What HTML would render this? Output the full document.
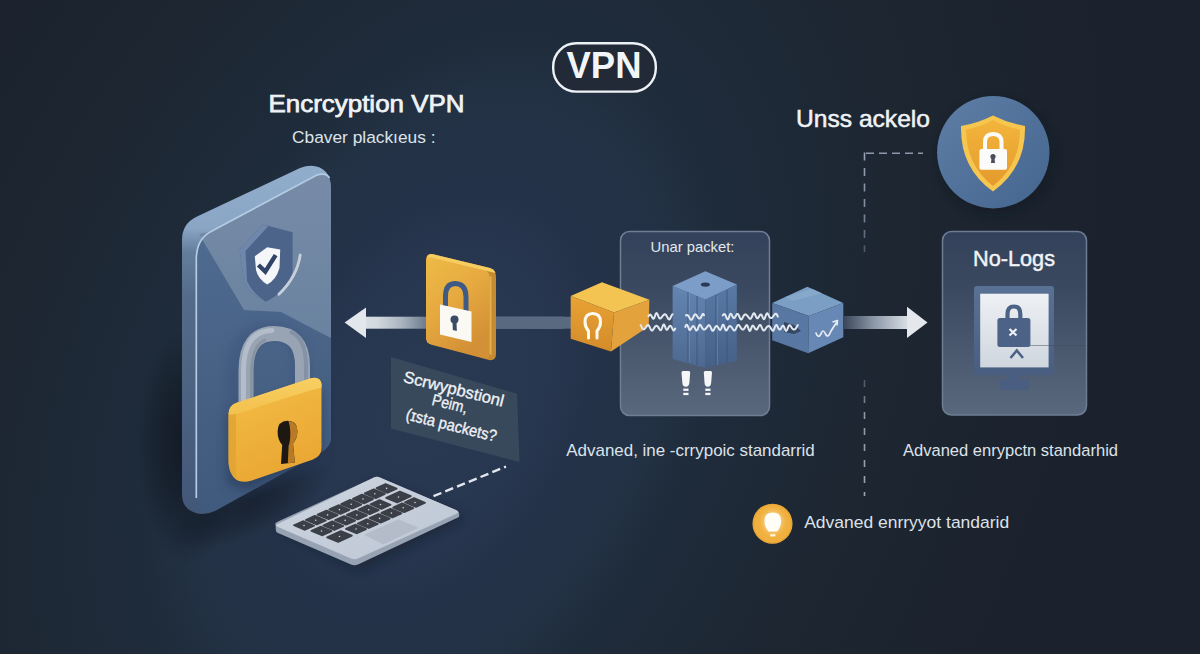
<!DOCTYPE html>
<html><head><meta charset="utf-8"><title>VPN</title>
<style>
html,body{margin:0;padding:0;width:1200px;height:654px;overflow:hidden;background:#1b232e;}
svg{display:block;position:absolute;left:0;top:0;}
text{font-family:"Liberation Sans",sans-serif;}
</style></head><body>
<svg width="1200" height="654" viewBox="0 0 1200 654">
<defs>
  <radialGradient id="bg" cx="0" cy="0" r="2.2" gradientUnits="userSpaceOnUse" gradientTransform="translate(430 400) rotate(-63.4) scale(450 300)">
    <stop offset="0" stop-color="#2a3952"/>
    <stop offset="0.15" stop-color="#283750"/>
    <stop offset="0.227" stop-color="#243249"/>
    <stop offset="0.327" stop-color="#223144"/>
    <stop offset="0.386" stop-color="#1f2c3b"/>
    <stop offset="0.5" stop-color="#1e2937"/>
    <stop offset="0.636" stop-color="#1d2631"/>
    <stop offset="0.909" stop-color="#1b222d"/>
    <stop offset="1" stop-color="#1b222d"/>
  </radialGradient>
  <linearGradient id="phoneSide" x1="0" y1="170" x2="0" y2="512" gradientUnits="userSpaceOnUse">
    <stop offset="0" stop-color="#90adcb"/>
    <stop offset="0.17" stop-color="#8aa6c4"/>
    <stop offset="0.24" stop-color="#637d9d"/>
    <stop offset="0.38" stop-color="#536b88"/>
    <stop offset="0.82" stop-color="#485d7e"/>
    <stop offset="1" stop-color="#435778"/>
  </linearGradient>
  <linearGradient id="phoneDark" x1="0" y1="230" x2="0" y2="512" gradientUnits="userSpaceOnUse">
    <stop offset="0" stop-color="#4f6b90"/>
    <stop offset="0.6" stop-color="#466083"/>
    <stop offset="1" stop-color="#405a7e"/>
  </linearGradient>
  <linearGradient id="phoneLight" x1="0" y1="175" x2="0" y2="335" gradientUnits="userSpaceOnUse">
    <stop offset="0" stop-color="#778ba7"/>
    <stop offset="1" stop-color="#6a83a0"/>
  </linearGradient>
  <linearGradient id="lockBody" x1="0" y1="0" x2="0.4" y2="1">
    <stop offset="0" stop-color="#f4bf47"/>
    <stop offset="1" stop-color="#eaa733"/>
  </linearGradient>
  <linearGradient id="lockTop" x1="0" y1="378" x2="0" y2="416" gradientUnits="userSpaceOnUse">
    <stop offset="0" stop-color="#f8cf62"/>
    <stop offset="1" stop-color="#f3c04c"/>
  </linearGradient>
  <linearGradient id="ycubeL" x1="0" y1="296" x2="0" y2="352" gradientUnits="userSpaceOnUse">
    <stop offset="0" stop-color="#e8a234"/>
    <stop offset="1" stop-color="#d38c2a"/>
  </linearGradient>
  <linearGradient id="cardFace" x1="0" y1="0" x2="0.5" y2="1">
    <stop offset="0" stop-color="#edbb46"/>
    <stop offset="0.5" stop-color="#e6aa40"/>
    <stop offset="1" stop-color="#d39036"/>
  </linearGradient>
  <linearGradient id="arrowL" x1="345" y1="0" x2="426" y2="0" gradientUnits="userSpaceOnUse">
    <stop offset="0" stop-color="#e0e5ea"/>
    <stop offset="0.4" stop-color="#d2d9df"/>
    <stop offset="0.7" stop-color="#a9b4bf"/>
    <stop offset="1" stop-color="#6c7c8e"/>
  </linearGradient>
  <linearGradient id="arrowR" x1="845" y1="0" x2="925" y2="0" gradientUnits="userSpaceOnUse">
    <stop offset="0" stop-color="#3d495d"/>
    <stop offset="0.35" stop-color="#8a95a5"/>
    <stop offset="0.75" stop-color="#d3d9e0"/>
    <stop offset="1" stop-color="#e4e8ed"/>
  </linearGradient>
  <linearGradient id="panel" x1="0" y1="0" x2="0" y2="1">
    <stop offset="0" stop-color="#33425a"/>
    <stop offset="0.3" stop-color="#3a495f"/>
    <stop offset="1" stop-color="#59687d"/>
  </linearGradient>
  <linearGradient id="circ" x1="0" y1="0" x2="1" y2="1">
    <stop offset="0" stop-color="#5e7ea6"/>
    <stop offset="1" stop-color="#44658e"/>
  </linearGradient>
  <linearGradient id="shieldY" x1="0" y1="0" x2="0" y2="1">
    <stop offset="0" stop-color="#f3b53c"/>
    <stop offset="1" stop-color="#e49a2c"/>
  </linearGradient>
  <linearGradient id="screen" x1="0" y1="0" x2="0" y2="1">
    <stop offset="0" stop-color="#eef1f4"/>
    <stop offset="1" stop-color="#cfd6de"/>
  </linearGradient>
  <linearGradient id="kbdTop" x1="0" y1="0" x2="1" y2="1">
    <stop offset="0" stop-color="#ccd4df"/>
    <stop offset="1" stop-color="#bdc7d4"/>
  </linearGradient>
  <linearGradient id="dashFade" x1="0" y1="152" x2="0" y2="252" gradientUnits="userSpaceOnUse">
    <stop offset="0" stop-color="#97a3b4"/>
    <stop offset="0.6" stop-color="#7d899b"/>
    <stop offset="1" stop-color="#4a5566"/>
  </linearGradient>
  <linearGradient id="dashFade2" x1="0" y1="380" x2="0" y2="496" gradientUnits="userSpaceOnUse">
    <stop offset="0" stop-color="#4a5566"/>
    <stop offset="0.3" stop-color="#8d99ab"/>
    <stop offset="1" stop-color="#9aa5b5"/>
  </linearGradient>
  <linearGradient id="monFrame" x1="0" y1="286" x2="0" y2="376" gradientUnits="userSpaceOnUse">
    <stop offset="0" stop-color="#5a7196"/>
    <stop offset="1" stop-color="#485d80"/>
  </linearGradient>
  <linearGradient id="pilL" x1="0" y1="286" x2="0" y2="368" gradientUnits="userSpaceOnUse">
    <stop offset="0" stop-color="#6485b2"/>
    <stop offset="1" stop-color="#4d6890"/>
  </linearGradient>
  <linearGradient id="pilR" x1="0" y1="285" x2="0" y2="368" gradientUnits="userSpaceOnUse">
    <stop offset="0" stop-color="#587aa6"/>
    <stop offset="1" stop-color="#465f86"/>
  </linearGradient>
  <filter id="blur2" x="-50%" y="-50%" width="200%" height="200%"><feGaussianBlur stdDeviation="2"/></filter>
  <filter id="soft" x="-20%" y="-20%" width="140%" height="140%"><feGaussianBlur stdDeviation="6"/></filter>
  <radialGradient id="shadowL" cx="0.5" cy="0.5" r="0.5">
    <stop offset="0" stop-color="#0c1119" stop-opacity="0.75"/>
    <stop offset="0.5" stop-color="#0c1119" stop-opacity="0.45"/>
    <stop offset="1" stop-color="#0c1119" stop-opacity="0"/>
  </radialGradient>
  <filter id="soft2" x="-50%" y="-50%" width="200%" height="200%"><feGaussianBlur stdDeviation="14"/></filter>
</defs>

<rect width="1200" height="654" fill="url(#bg)"/>

<!-- VPN badge -->
<rect x="553.2" y="43.3" width="102.6" height="48.3" rx="23" fill="#212a36" stroke="#eef2f6" stroke-width="2.4"/>
<text x="566.5" y="78.2" font-size="36.5" font-weight="bold" fill="#f2f5f8" textLength="75" lengthAdjust="spacingAndGlyphs">VPN</text>

<!-- left titles -->
<text x="268.5" y="111.6" font-size="24.5" fill="#f0f3f6" stroke="#f0f3f6" stroke-width="0.75" textLength="196" lengthAdjust="spacingAndGlyphs">Encrcyption VPN</text>
<text x="292" y="143.3" font-size="16.8" fill="#dde3ea" textLength="143.5" lengthAdjust="spacingAndGlyphs">Cbaver plackıeus :</text>

<!-- ============ PHONE ============ -->
<g id="phone">
  <ellipse cx="188" cy="445" rx="52" ry="120" fill="url(#shadowL)"/>
  <ellipse cx="250" cy="505" rx="90" ry="30" fill="url(#shadowL)" opacity="0.6" transform="rotate(-24 250 505)"/>
  <!-- silhouette -->
  <path d="M182 240 Q182 224 196 217 L300 168 Q316 162 326 172 Q331 178 331 190 L331 437 Q331 447 320 453 L215 511 Q200 518 188 509 Q182 504 182 494 Z" fill="url(#phoneSide)"/>
  <!-- front face -->
  <path d="M196 258 Q197 238 212 231 L316 175.5 Q331 170 331 190 L331 437 Q331 447 320 453 L216 510 Q197 518 196 498 Z" fill="url(#phoneDark)"/>
  <!-- lighter upper region -->
  <path d="M199 234 L212 231 L316 175.5 Q331 170 331 190 L331 338 L300 322 L281 312 L244 310 Z" fill="url(#phoneLight)"/>
  <!-- highlight line -->
  <path d="M196.3 498 L196.3 258 Q197 238 212 231 L316 175.5 Q326 172 329.5 178" fill="none" stroke="#b4cbe4" stroke-width="1.7"/>

  <!-- shield -->
  <path d="M239.6 249.4 L263 224.6 L292.6 232.2 L292.6 272.8 Q286 292 265.8 301.7 Q248 293 243.8 281 Z" fill="#4c6489"/>
  <path d="M239.6 249.4 L263 224.6 L268.5 226 L245.5 251 L247 281 Q252 293 265.8 301.7 Q248 293 243.8 281 Z" fill="#6f87aa"/>
  <path d="M254.8 256.3 L267.2 247.3 L280.2 249.4 L279.5 268 Q276 280 267.2 284.5 Q258 279 256 270 Z" fill="#f4f6f9"/>
  <path d="M260 266.5 L265.3 271.6 L274.5 257" fill="none" stroke="#2f4467" stroke-width="4.4" stroke-linecap="square" stroke-linejoin="miter"/>
  <path d="M300.2 255 Q297 277 278.9 294.2" fill="none" stroke="#c6d0dc" stroke-width="2.8" stroke-linecap="round"/>

  <!-- big padlock shadow -->
  <path d="M232 410 L326 385 L326 458 L252 488 L232 480 Z" fill="#243453" opacity="0.6" filter="url(#soft)" transform="translate(-5,3)"/>
  <path d="M240 410 L240 370 Q241 328 274 326 Q306 326 307 365 L307 390" fill="none" stroke="#3a4f78" stroke-width="12" opacity="0.55" filter="url(#soft)" transform="translate(-6,4)"/>
  <!-- shackle -->
  <path d="M246 414 L246 370 Q246.5 333.5 274 333.5 Q302.5 333.5 302.5 366 L302.5 392" fill="none" stroke="#98a3b4" stroke-width="15"/>
  <path d="M243.5 410 L243.5 370 Q244 331 272 330.5" fill="none" stroke="#b3bdca" stroke-width="5" stroke-linecap="round"/>
  <path d="M306 390 L306 366 Q306 338 290 331.5" fill="none" stroke="#8591a5" stroke-width="4"/>
  <path d="M251.5 412 L251.5 372 Q252 344 266 339.5" fill="none" stroke="#87939f" stroke-width="2.5"/>
  <!-- body -->
  <path d="M228.5 414 Q228.5 406 236 403 L310 378.5 Q320 375.5 321.5 384 L321.5 448 Q321.5 456 313 459.5 L252 480.5 Q236 485 231 473 Q228.5 468 228.5 460 Z" fill="url(#lockBody)"/>
  <path d="M228.5 414 Q228.5 406 236 403 L310 378.5 Q320 375.5 321.5 384 L321.5 387.5 Q300 393 240 413 Q232 416 228.5 414 Z" fill="url(#lockTop)"/>
  <path d="M228.5 415 L228.5 460 Q228.5 468 231 473 Q233 477 236 479 L236 414 Z" fill="#dea132" opacity="0.7"/>
  <!-- keyhole -->
  <path d="M287.5 420.8 Q297.4 420.8 297.4 431 Q297.4 438.5 293 443.5 L294.8 462.5 L281 464 L282.2 445 Q277.6 440 277.6 431.5 Q277.8 421 287.5 420.8 Z" fill="#1d1812"/>
  <path d="M288.5 421 Q297.4 421.5 297.4 431 Q297.4 438.5 293 443.5 L294.8 462.5 L287.8 463.3 L288.6 446 Q290.5 441 290.3 432 Q290 425 288.5 421 Z" fill="#b87a24"/>
</g>

<!-- ============ LEFT ARROW ============ -->
<rect x="364" y="316.7" width="200" height="12" fill="url(#arrowL)"/>
<rect x="495" y="316.7" width="77" height="12" fill="#59697f"/>
<path d="M344.6 322.5 L366 307.5 L366 338 Z" fill="#e2e7ec"/>

<!-- yellow card -->
<g id="card">
  <path d="M432 254 L490 268 Q496 270 496 277 L496 354 Q496 361 489 360 L433 345 Q426 343 426 336 L426 260 Q426 253 432 254 Z" fill="#c68a32"/>
  <path d="M431 257 L484 270 Q489.5 271.5 489.5 277 L489.5 354 Q489.5 359 484 358 L431 344.5 Q426 343 426 338 L426 262 Q426 256 431 257 Z" fill="url(#cardFace)"/>
  <path d="M489.5 277 L489.5 354 L491.5 355 L491.5 276 Z" fill="#e2b24a"/>
  <path d="M432 254 L490 268 Q494.5 269.5 495.5 273 L489 271.5 L431 257.5 Q427.5 257 426.5 259 Q427.5 253.5 432 254 Z" fill="#f6cd60"/>
  <!-- card padlock -->
  <path d="M445.5 306 L445.5 296 Q445.5 283.5 455.5 283.5 Q466 284 466 297 L466 311" fill="none" stroke="#3f5b84" stroke-width="5"/>
  <path d="M440 304.5 L471.5 311.5 L471.5 342 L440 334.5 Z" fill="#fbf9f4"/>
  <circle cx="454.5" cy="319.5" r="4" fill="#3a4b66"/>
  <path d="M452.5 321 L456.5 321.5 L456.8 331 L452.8 330 Z" fill="#3a4b66"/>
</g>

<!-- label panel -->
<path d="M391 357 L517 393.7 L519.5 462 L391 428.4 Z" fill="#39495c"/>
<g fill="#eef1f5" stroke="#eef1f5" stroke-width="0.35" font-size="16.3">
  <text x="452.4" y="394.2" text-anchor="middle" transform="rotate(14 452.4 394.2)" textLength="103" lengthAdjust="spacingAndGlyphs">Scrwypbstionl</text>
  <text x="448.5" y="409" text-anchor="middle" transform="rotate(14 448.5 409)" textLength="36" lengthAdjust="spacingAndGlyphs">Peim,</text>
  <text x="450" y="430.5" text-anchor="middle" transform="rotate(14 450 430.5)" textLength="93" lengthAdjust="spacingAndGlyphs">(ɪsta packets?</text>
</g>

<!-- keyboard -->
<g id="kbd">
  <path d="M280 530 L380 482 L466 518 L360 570 Z" fill="#0f1620" opacity="0.45" filter="url(#soft)"/>
  <path d="M275.7 525.3 Q274 523 278 521.5 L374 477.5 Q377 476 381 478 L457 510.5 Q460 512 459 516 L459 517 L358 564.5 Q354.5 566 351 564.5 L278 533 Q275.7 532 275.7 529 Z" fill="#97a2b3"/>
  <path d="M278 523.8 L374 477.5 Q377 476 381 478 L456 510 Q460 512 456 514 L358 558.5 Q354.5 560 351 558.5 L278 527 Q274 525.5 278 523.8 Z" fill="url(#kbdTop)"/>
  <path d="M365.8 534.8 L398.5 520.3 L416.6 527.8 L383.3 543.6 Z" fill="#b3bcc8" stroke="#b3bcc8" stroke-width="1.5" stroke-linejoin="round"/>
<path d="M294.0 525.2 L303.0 521.2 L314.0 525.8 L305.0 529.8Z M305.8 520.0 L314.8 515.9 L325.8 520.5 L316.8 524.5Z M317.6 514.6 L326.6 510.6 L337.6 515.1 L328.6 519.2Z M329.4 509.4 L338.4 505.2 L349.4 509.9 L340.4 514.0Z M341.2 504.1 L350.2 499.9 L361.2 504.6 L352.2 508.7Z M353.0 498.8 L362.0 494.6 L373.0 499.2 L364.0 503.4Z M364.8 493.4 L373.8 489.3 L384.8 493.9 L375.8 498.1Z M376.6 488.1 L385.6 484.0 L396.6 488.6 L387.6 492.8Z M311.5 530.8 L320.5 526.7 L331.5 531.2 L322.5 535.3Z M323.3 525.5 L332.3 521.4 L343.3 526.0 L334.3 530.0Z M335.1 520.1 L344.1 516.1 L355.1 520.6 L346.1 524.7Z M346.9 514.9 L355.9 510.8 L366.9 515.4 L357.9 519.4Z M358.7 509.6 L367.7 505.4 L378.7 510.1 L369.7 514.1Z M370.5 504.2 L379.5 500.1 L390.5 504.8 L381.5 508.9Z M386.2 497.8 L399.8 491.6 L410.8 496.2 L397.2 502.4Z M327.2 537.3 L340.8 531.1 L351.8 535.7 L338.2 541.9Z M346.0 528.8 L355.0 524.7 L366.0 529.2 L357.0 533.3Z M357.8 523.5 L366.8 519.4 L377.8 524.0 L368.8 528.0Z M369.6 518.1 L378.6 514.1 L389.6 518.6 L380.6 522.7Z M381.4 512.9 L390.4 508.8 L401.4 513.4 L392.4 517.4Z M393.2 507.6 L402.2 503.4 L413.2 508.1 L404.2 512.1Z M405.0 502.2 L414.0 498.1 L425.0 502.8 L416.0 506.9Z" fill="#3b3f47" stroke="#3b3f47" stroke-width="1.8" stroke-linejoin="round"/>
<g fill="#c9ced6"><circle cx="304.0" cy="525.5" r="0.8"/><circle cx="315.8" cy="520.2" r="0.8"/><circle cx="327.6" cy="514.9" r="0.8"/><circle cx="339.4" cy="509.6" r="0.8"/><circle cx="351.2" cy="504.3" r="0.8"/><circle cx="363.0" cy="499.0" r="0.8"/><circle cx="374.8" cy="493.7" r="0.8"/><circle cx="386.6" cy="488.4" r="0.8"/><circle cx="321.5" cy="531.0" r="0.8"/><circle cx="333.3" cy="525.7" r="0.8"/><circle cx="345.1" cy="520.4" r="0.8"/><circle cx="356.9" cy="515.1" r="0.8"/><circle cx="368.7" cy="509.8" r="0.8"/><circle cx="380.5" cy="504.5" r="0.8"/><circle cx="398.5" cy="497.0" r="0.8"/><circle cx="339.5" cy="536.5" r="0.8"/><circle cx="356.0" cy="529.0" r="0.8"/><circle cx="367.8" cy="523.7" r="0.8"/><circle cx="379.6" cy="518.4" r="0.8"/><circle cx="391.4" cy="513.1" r="0.8"/><circle cx="403.2" cy="507.8" r="0.8"/><circle cx="415.0" cy="502.5" r="0.8"/></g>
</g>
<path d="M433.5 496.2 L506 466.6" stroke="#e2e8ee" stroke-width="2.4" stroke-dasharray="8.5 4.2"/>

<!-- ============ CENTER PANEL ============ -->
<rect x="620.5" y="231.5" width="149" height="184" rx="9" fill="url(#panel)" stroke="#6f7e94" stroke-width="1.5"/>
<text x="650.5" y="252.4" font-size="14.5" fill="#e3e8ee" textLength="84" lengthAdjust="spacingAndGlyphs">Unar packet:</text>

<!-- pillar -->
<g id="pillar">
  <path d="M672.6 286 L705.4 299.6 L705.4 368 L672.6 359 Z" fill="url(#pilL)"/>
  <path d="M705.4 299.6 L736.8 284.6 L736.8 360.7 L705.4 368 Z" fill="url(#pilR)"/>
  <path d="M672.6 286 L705.4 271.2 L736.8 284.6 L705.4 299.6 Z" fill="#7d9dc9"/>
  <ellipse cx="705.4" cy="284.6" rx="4.5" ry="2.2" fill="#2a3a55"/>
  <path d="M688 292 L688 362 M697 296 L697 365 M716 295 L716 366 M727 290 L727 363" stroke="#3b557c" stroke-width="1.2" opacity="0.7"/>
  <path d="M689.3 293 L689.3 362 M717.3 296 L717.3 365" stroke="#7f9cc4" stroke-width="0.8" opacity="0.6"/>
</g>
<!-- plugs -->
<g fill="#f4f6f8">
  <path d="M681.5 372.5 Q681.5 371 683 371 L688.8 371 Q690.2 371 690.2 372.5 L689.4 382.5 Q689 386.8 685.8 386.8 Q682.6 386.8 682.3 382.5 Z"/>
  <path d="M703.8 372.5 Q703.8 371 705.3 371 L710.6 371 Q712 371 712 372.5 L711.2 382.5 Q710.8 386.8 707.8 386.8 Q704.8 386.8 704.5 382.5 Z"/>
  <rect x="683.3" y="388.6" width="5.2" height="2.3"/>
  <rect x="683.3" y="392.8" width="5.2" height="2.3"/>
  <rect x="705.3" y="388.6" width="5.2" height="2.3"/>
  <rect x="705.3" y="392.8" width="5.2" height="2.3"/>
</g>

<!-- yellow cube -->
<g id="ycube">
  <path d="M570.7 296 L602 282.2 L649.4 299.8 L614 312.5 Z" fill="#f4c452"/>
  <path d="M570.7 296 L614 312.5 L611 351.5 L570.7 338.8 Z" fill="url(#ycubeL)"/>
  <path d="M614 312.5 L649.4 299.8 L648.7 326.6 L611 351.5 Z" fill="#e3a23c"/>
  <path d="M588.5 338 L588.5 331 Q585 327 585 322 Q585 313.5 592.8 313.5 Q600.5 313.5 600.5 322 Q600.5 327 597 331 L597 338" fill="none" stroke="#fffaf0" stroke-width="3" stroke-linecap="round" stroke-linejoin="round"/>
</g>

<!-- blue cube -->
<g id="bcube">
  <path d="M772.2 302.9 L807.4 286.8 L843.3 302.9 L808.9 315.9 Z" fill="#7a9ec4"/>
  <path d="M785 297 L812 288.8 L822 293.3 L793 301 Z" fill="#8aaccf" opacity="0.7"/>
  <path d="M772.2 302.9 L808.9 315.9 L808.2 353.3 L772.2 340.3 Z" fill="#5877a2"/>
  <path d="M808.9 315.9 L843.3 302.9 L843.3 337.3 L808.2 353.3 Z" fill="#6788b4"/>
  <path d="M784 322 L794 325 L801 331 L794 334 L784 332 Z" fill="#2f3d55" opacity="0.85"/>
  <path d="M816 333 Q818 339 821 334 Q823 328 825.5 334 Q828 339 831 331 L836.5 322.5" fill="none" stroke="#e6edf5" stroke-width="1.7" stroke-linecap="round"/>
  <path d="M832.5 322 L837.5 320.5 L837 325.5" fill="none" stroke="#e6edf5" stroke-width="1.6" stroke-linejoin="round"/>
</g>

<!-- wavy lines -->
<path d="M648.50 316.30 L649.00 315.41 L649.50 314.80 L650.00 314.56 L650.50 314.71 L651.00 315.23 L651.50 316.04 L652.00 317.00 L652.50 317.92 L653.00 318.55 L653.50 318.69 L654.00 318.22 L654.50 317.20 L655.00 315.86 L655.50 314.52 L656.00 313.52 L656.50 313.11 L657.00 313.37 L657.50 314.19 L658.00 315.36 L658.50 316.59 L659.00 317.63 L659.50 318.32 L660.00 318.59 L660.50 318.48 L661.00 318.08 L661.50 317.51 L662.00 316.87 L662.50 316.21 L663.00 315.60 L663.50 315.06 L664.00 314.63 L664.50 314.34 L665.00 314.26 L665.50 314.43 L666.00 314.90 L666.50 315.63 L667.00 316.56 L667.50 317.57 L668.00 318.50 L668.50 319.18 L669.00 319.48 L669.50 319.33 L670.00 318.74 L670.50 317.82 L671.00 316.73 L671.50 315.66 L672.00 314.80 L672.50 314.26 M686.00 315.34 L686.50 315.07 L687.00 315.00 L687.50 315.15 L688.00 315.53 L688.50 316.14 L689.00 316.94 L689.50 317.84 L690.00 318.71 L690.50 319.42 L691.00 319.83 L691.50 319.84 L692.00 319.43 L692.50 318.66 L693.00 317.64 L693.50 316.53 L694.00 315.53 L694.50 314.78 L695.00 314.38 L695.50 314.36 L696.00 314.67 L696.50 315.23 L697.00 315.94 L697.50 316.69 L698.00 317.39 L698.50 317.98 L699.00 318.41 L699.50 318.62 L700.00 318.53 L700.50 318.10 L701.00 317.32 L701.50 316.28 L702.00 315.17 L702.50 314.29 L703.00 313.91 L703.50 314.22 L704.00 315.23 M722.80 315.42 L723.30 314.76 L723.80 314.27 L724.30 314.06 L724.80 314.26 L725.30 314.92 L725.80 316.00 L726.30 317.29 L726.80 318.50 L727.30 319.30 L727.80 319.44 L728.30 318.83 L728.80 317.61 L729.30 316.11 L729.80 314.75 L730.30 313.89 L730.80 313.72 L731.30 314.19 L731.80 315.10 L732.30 316.16 L732.80 317.11 L733.30 317.76 L733.80 318.04 L734.30 317.94 L734.80 317.51 L735.30 316.81 L735.80 315.95 L736.30 315.06 L736.80 314.31 L737.30 313.88 L737.80 313.89 L738.30 314.40 L738.80 315.32 L739.30 316.51 L739.80 317.72 L740.30 318.72 L740.80 319.32 L741.30 319.43 L741.80 319.07 L742.30 318.33 L742.80 317.38 L743.30 316.39 L743.80 315.53 L744.30 314.89 L744.80 314.51 L745.30 314.39 L745.80 314.49 L746.30 314.76 L746.80 315.17 L747.30 315.69 L747.80 316.30 L748.30 316.96 L748.80 317.64 L749.30 318.25 L749.80 318.68 L750.30 318.81 L750.80 318.57 L751.30 317.92 L751.80 316.93 L752.30 315.74 L752.80 314.56 L753.30 313.65 L753.80 313.20 L754.30 313.32 L754.80 313.98 L755.30 315.04 L755.80 316.24 L756.30 317.32 L756.80 318.07 L757.30 318.36 L757.80 318.19 L758.30 317.66 L758.80 316.89 L759.30 316.03 L759.80 315.23 L760.30 314.64 L760.80 314.40 L761.30 314.61 L761.80 315.29 L762.30 316.36 L762.80 317.58 L763.30 318.63 L763.80 319.18 L764.30 319.05 L764.80 318.23 L765.30 316.91 L765.80 315.45 L766.30 314.20 L766.80 313.46 L767.30 313.34 L767.80 313.79 L768.30 314.64 L768.80 315.66 L769.30 316.64 L769.80 317.41 L770.30 317.90 L770.80 318.11 L771.30 318.06 L771.80 317.82 L772.30 317.41 L772.80 316.88 L773.30 316.23 L773.80 315.52 L774.30 314.82 L774.80 314.20 L775.30 313.79 L775.80 313.67 L776.30 313.91 L776.80 314.51 L777.30 315.43 L777.80 316.52 M640.70 325.21 L641.20 326.07 L641.70 327.11 L642.20 328.09 L642.70 328.83 L643.20 329.26 L643.70 329.37 L644.20 329.22 L644.70 328.83 L645.20 328.27 L645.70 327.57 L646.20 326.80 L646.70 326.04 L647.20 325.42 L647.70 325.05 L648.20 325.02 L648.70 325.38 L649.20 326.10 L649.70 327.10 L650.20 328.21 L650.70 329.25 L651.20 330.06 L651.70 330.52 L652.20 330.57 L652.70 330.23 L653.20 329.58 L653.70 328.76 L654.20 327.90 L654.70 327.12 L655.20 326.50 L655.70 326.08 L656.20 325.87 L656.70 325.87 L657.20 326.08 L657.70 326.49 L658.20 327.10 L658.70 327.87 L659.20 328.72 L659.70 329.53 L660.20 330.09 L660.70 330.22 L661.20 329.81 L661.70 328.85 L662.20 327.50 L662.70 326.08 L663.20 324.96 L663.70 324.46 L664.20 324.72 L664.70 325.66 L665.20 327.01 L665.70 328.37 L666.20 329.38 L666.70 329.84 L667.20 329.69 L667.70 329.08 L668.20 328.22 L668.70 327.32 L669.20 326.54 L669.70 326.02 L670.20 325.81 L670.70 325.97 L671.20 326.49 L671.70 327.32 L672.20 328.33 L672.70 329.33 L673.20 330.09 L673.70 330.45 L674.20 330.28 L674.70 329.60 L675.20 328.54 M685.30 326.88 L685.80 325.68 L686.30 324.86 L686.80 324.64 L687.30 325.10 L687.80 326.13 L688.30 327.46 L688.80 328.75 L689.30 329.68 L689.80 330.07 L690.30 329.88 L690.80 329.25 L691.30 328.36 L691.80 327.44 L692.30 326.67 L692.80 326.17 L693.30 326.03 L693.80 326.29 L694.30 326.95 L694.80 327.89 L695.30 328.96 L695.80 329.90 L696.30 330.46 L696.80 330.47 L697.30 329.87 L697.80 328.80 L698.30 327.47 L698.80 326.19 L699.30 325.22 L699.80 324.76 L700.30 324.84 L700.80 325.40 L701.30 326.27 L701.80 327.25 L702.30 328.17 L702.80 328.90 L703.30 329.38 L703.80 329.60 L704.30 329.60 L704.80 329.41 L705.30 329.07 L705.80 328.60 L706.30 328.01 L706.80 327.33 L707.30 326.62 L707.80 325.95 L708.30 325.42 L708.80 325.16 L709.30 325.24 L709.80 325.72 L710.30 326.55 L710.80 327.64 L711.30 328.81 L711.80 329.84 L712.30 330.56 L712.80 330.81 L713.30 330.57 L713.80 329.90 L714.30 328.94 L714.80 327.90 L715.30 326.98 L715.80 326.31 L716.30 325.98 L716.80 326.00 L717.30 326.35 L717.80 326.96 L718.30 327.75 L718.80 328.61 L719.30 329.38 L719.80 329.88 L720.30 329.92 L720.80 329.39 L721.30 328.34 L721.80 326.98 L722.30 325.68 L722.80 324.84 L723.30 324.74 L723.80 325.42 L724.30 326.71 L724.80 328.22 L725.30 329.55 L725.80 330.38 L726.30 330.56 L726.80 330.14 L727.30 329.32 L727.80 328.34 L728.30 327.41 L728.80 326.69 L729.30 326.24 L729.80 326.06 L730.30 326.12 L730.80 326.40 L731.30 326.88 L731.80 327.52 L732.30 328.28 L732.80 329.07 L733.30 329.79 L733.80 330.33 L734.30 330.56 L734.80 330.41 L735.30 329.87 L735.80 329.00 L736.30 327.94 L736.80 326.84 L737.30 325.88 L737.80 325.21 L738.30 324.93 L738.80 325.05 L739.30 325.51 L739.80 326.22 L740.30 327.04 L740.80 327.85 L741.30 328.55 L741.80 329.08 L742.30 329.42 L742.80 329.54 L743.30 329.44 L743.80 329.10 L744.30 328.52 L744.80 327.72 L745.30 326.80 L745.80 325.92 L746.30 325.29 L746.80 325.12 L747.30 325.55 L747.80 326.58 L748.30 327.99 L748.80 329.45 L749.30 330.54 L749.80 330.95 L750.30 330.56 L750.80 329.50 L751.30 328.11 L751.80 326.80 L752.30 325.89 L752.80 325.56 L753.30 325.80 L753.80 326.46 L754.30 327.33 L754.80 328.20 L755.30 328.93 L755.80 329.42 L756.30 329.61 L756.80 329.45 L757.30 328.95 L757.80 328.15 L758.30 327.17 L758.80 326.17 L759.30 325.36 L759.80 324.92 L760.30 324.95 L760.80 325.49 L761.30 326.42 L761.80 327.58 L762.30 328.75 L762.80 329.72 L763.30 330.36 L763.80 330.58 L764.30 330.41 L764.80 329.92 L765.30 329.24 L765.80 328.48 L766.30 327.75 L766.80 327.11 L767.30 326.61 L767.80 326.26 L768.30 326.07 L768.80 326.04 L769.30 326.21 L769.80 326.60 L770.30 327.21 L770.80 328.03 L771.30 328.95 L771.80 329.83 L772.30 330.51 L772.80 330.80 L773.30 330.60 L773.80 329.88 L774.30 328.75 L774.80 327.42 L775.30 326.19 L775.80 325.31 L776.30 324.98 L776.80 325.25 L777.30 326.02 L777.80 327.06 L778.30 328.13 L778.80 328.99 L779.30 329.49 L779.80 329.59 L780.30 329.29 L780.80 328.67 L781.30 327.83 L781.80 326.92 L782.30 326.13 L782.80 325.65 L783.30 325.67 L783.80 326.27 L784.30 327.35 L784.80 328.69 L785.30 329.93 L785.80 330.75 L786.30 330.93 L786.80 330.41 L787.30 329.36 L787.80 328.04 L788.30 326.77 L788.80 325.80 L789.30 325.30 L789.80 325.28 L790.30 325.66 L790.80 326.30 L791.30 327.06 L791.80 327.81 L792.30 328.46 L792.80 328.99 L793.30 329.36 L793.80 329.57 L794.30 329.60 L794.80 329.42 L795.30 329.01 L795.80 328.38 L796.30 327.56 L796.80 326.65 L797.30 325.77 L797.80 325.09" fill="none" stroke="#e2e8f0" stroke-width="2" stroke-linejoin="round" stroke-linecap="round"/>

<!-- right arrow -->
<rect x="844" y="316" width="64" height="13" fill="url(#arrowR)"/>
<path d="M907 306.7 L927.5 322.5 L907 338 Z" fill="#e4e8ed"/>

<!-- dashed lines -->
<path d="M864.5 152.4 L864.5 252" stroke="url(#dashFade)" stroke-width="1.6" stroke-dasharray="8 7.5"/>
<path d="M864.5 380 L864.5 496" stroke="url(#dashFade2)" stroke-width="1.6" stroke-dasharray="7 9"/>
<path d="M866 153.3 L923 153.3" stroke="#8d99ab" stroke-width="1.6" stroke-dasharray="8 5"/>

<!-- Unss ackelo -->
<text x="796" y="126.7" font-size="24" fill="#f0f3f6" stroke="#f0f3f6" stroke-width="0.5" textLength="134" lengthAdjust="spacingAndGlyphs">Unss ackelo</text>

<!-- circle shield -->
<circle cx="996" cy="157" r="56" fill="#0e141d" opacity="0.5" filter="url(#soft)"/>
<circle cx="993.3" cy="152.2" r="56.2" fill="url(#circ)"/>
<path d="M993 115.4 Q1008 123 1025 126 Q1026 168 993 191.5 Q960 168 961 126 Q978 123 993 115.4 Z" fill="#f6c64e"/>
<path d="M993 120 Q1006 127 1020 129.5 Q1020 165 993 186 Q966 165 966 129.5 Q980 127 993 120 Z" fill="url(#shieldY)"/>
<path d="M985 150 L985 142 Q985 134 993.2 134 Q1001.5 134 1001.5 142 L1001.5 150" fill="none" stroke="#fbfbfa" stroke-width="4"/>
<rect x="979.4" y="149" width="27.6" height="20.7" rx="2" fill="#fbfbfa"/>
<circle cx="993" cy="156.5" r="2.6" fill="#4a4f5a"/>
<path d="M991.6 157 L994.4 157 L995 163 L991 163 Z" fill="#4a4f5a"/>

<!-- No-Logs panel -->
<rect x="942.5" y="231.5" width="144" height="183.5" rx="9" fill="url(#panel)" stroke="#6e7d94" stroke-width="1.5"/>
<text x="973" y="266.4" font-size="21.5" fill="#f0f3f6" stroke="#f0f3f6" stroke-width="0.45" textLength="82" lengthAdjust="spacingAndGlyphs">No-Logs</text>
<path d="M974 289 Q974 286 977 286 L1051 286 Q1054 286 1054 289 L1054 375.3 L974 375.3 Z" fill="url(#monFrame)"/>
<rect x="980.2" y="293.7" width="68.4" height="73.7" fill="url(#screen)"/>
<rect x="1006.8" y="375" width="12.6" height="5.5" fill="#495e80"/>
<rect x="999.6" y="380" width="29.2" height="10" rx="1.5" fill="#495e80"/>
<path d="M1007.5 319 L1007.5 314 Q1007.5 306.5 1013.9 306.5 Q1020.3 306.5 1020.3 314 L1020.3 319" fill="none" stroke="#4c6287" stroke-width="4.2"/>
<rect x="997.4" y="317.9" width="33" height="29" rx="2.5" fill="#4c6287"/>
<path d="M1009.5 329 L1016.5 335.5 M1016.5 329 L1009.5 335.5" stroke="#f0f3f6" stroke-width="2.2"/>
<path d="M1030 345.5 L1086 345.5" stroke="#3e4d64" stroke-width="0.8" opacity="0.6"/>
<path d="M1010.5 358 L1016.8 350.5 L1023 358" fill="none" stroke="#4c6287" stroke-width="2.6"/>

<!-- captions -->
<text x="566.3" y="456.1" font-size="17" fill="#dde2e9" textLength="248.5" lengthAdjust="spacingAndGlyphs">Advaned, ine -crrypoic standarrid</text>
<text x="903" y="456.4" font-size="16.8" fill="#dde2e9" textLength="215" lengthAdjust="spacingAndGlyphs">Advaned enrypctn standarhid</text>

<!-- bulb -->
<circle cx="772.5" cy="523.7" r="20" fill="#f0b03e"/>
<circle cx="772.5" cy="523.7" r="19" fill="none" stroke="#e5a030" stroke-width="1.2" opacity="0.7"/>
<ellipse cx="772.8" cy="522" rx="10.5" ry="11.5" fill="#fff6de" opacity="0.35" filter="url(#blur2)"/>
<path d="M772.8 512.5 Q781.2 512.5 781.2 520.8 Q781.2 526.5 777.2 531.5 L768.4 531.5 Q764.4 526.5 764.4 520.8 Q764.4 512.5 772.8 512.5 Z" fill="#fffdf5"/>
<rect x="770" y="534" width="5.6" height="2.4" rx="1" fill="#fff0c8"/>
<text x="804.2" y="528.3" font-size="17.2" fill="#dde2e9" textLength="205" lengthAdjust="spacingAndGlyphs">Advaned enrryyot tandarid</text>

</svg>
</body></html>
